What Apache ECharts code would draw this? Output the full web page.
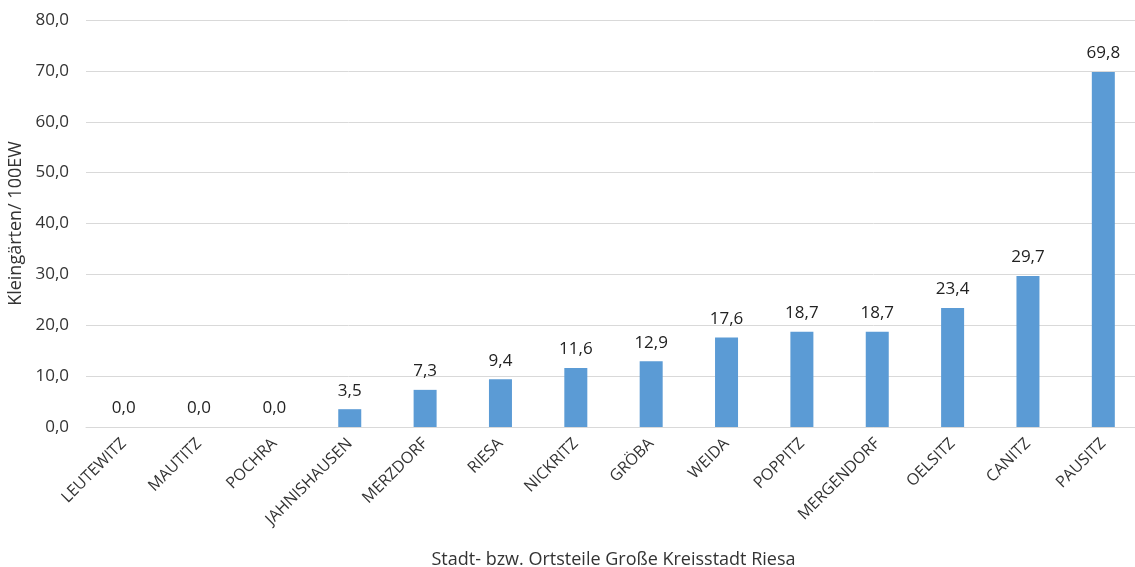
<!DOCTYPE html>
<html lang="de">
<head>
  <meta charset="utf-8">
  <title>Kleingärten je 100 EW</title>
  <style>
    html, body { margin: 0; padding: 0; background: #fff; }
    #chart { width: 1135px; height: 567px; }
  </style>
</head>
<body>
<script src="https://cdn.jsdelivr.net/npm/echarts@6/dist/echarts.min.js"></script>
<div id="chart"></div>
<script>
  var ortsteile = ['LEUTEWITZ', 'MAUTITZ', 'POCHRA', 'JAHNISHAUSEN', 'MERZDORF', 'RIESA', 'NICKRITZ',
    'GRÖBA', 'WEIDA', 'POPPITZ', 'MERGENDORF', 'OELSITZ', 'CANITZ', 'PAUSITZ'];
  var kleingaerten = [0.0, 0.0, 0.0, 3.5, 7.3, 9.4, 11.6, 12.9, 17.6, 18.7, 18.7, 23.4, 29.7, 69.8];

  var fmt = function (v) { return v.toFixed(1).replace('.', ','); };
  var font = '"Open Sans", "Liberation Sans", sans-serif';

  var chart = echarts.init(document.getElementById('chart'));
  chart.setOption({
    animation: false,
    textStyle: { fontFamily: font },
    grid: { left: 86, right: -6, top: 20, bottom: 140, containLabel: false, outerBoundsMode: 'none' },
    xAxis: {
      type: 'category',
      data: ortsteile,
      name: 'Stadt- bzw. Ortsteile Große Kreisstadt Riesa',
      nameLocation: 'middle',
      nameGap: 124,
      nameTextStyle: { fontSize: 18, color: '#333', fontFamily: font },
      axisLine: { lineStyle: { color: '#d9d9d9' } },
      axisTick: { show: false },
      axisLabel: { rotate: 45, fontSize: 16, color: '#333', margin: 14, interval: 0, fontFamily: font }
    },
    yAxis: {
      type: 'value',
      min: 0,
      max: 80,
      interval: 10,
      name: 'Kleingärten/ 100EW',
      nameLocation: 'middle',
      nameGap: 59,
      nameTextStyle: { fontSize: 18, color: '#333', fontFamily: font },
      axisLabel: { formatter: fmt, fontSize: 17, color: '#333', margin: 17, fontFamily: font },
      splitLine: { lineStyle: { color: '#d9d9d9' } },
      axisLine: { show: false },
      axisTick: { show: false }
    },
    series: [{
      type: 'bar',
      data: kleingaerten,
      barWidth: 23,
      itemStyle: { color: '#5b9bd5' },
      label: {
        show: true,
        position: 'top',
        distance: 10,
        formatter: function (p) { return fmt(p.value); },
        fontSize: 17,
        color: '#222',
        fontFamily: font
      }
    }]
  });
</script>
</body>
</html>
